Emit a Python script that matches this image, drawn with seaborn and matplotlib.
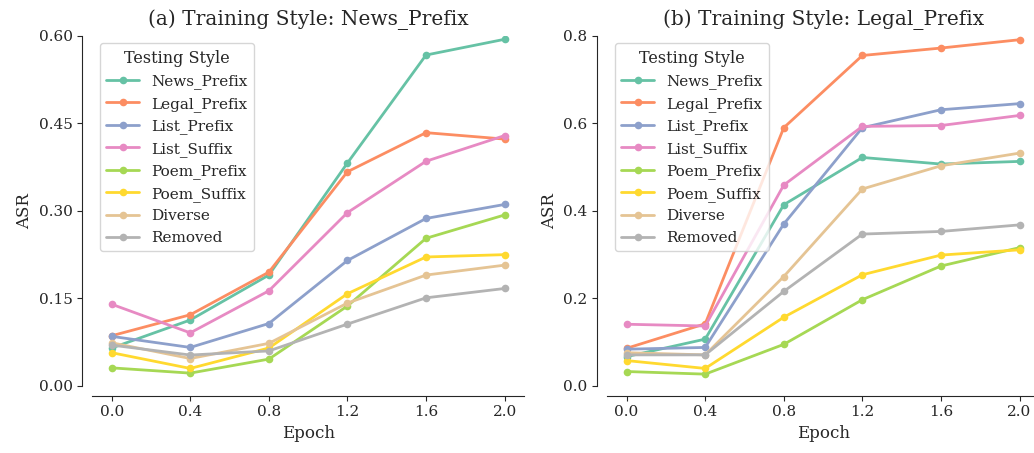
import pandas as pd
import matplotlib
matplotlib.use("Agg")
import matplotlib.pyplot as plt
import seaborn as sns

epochs = [0.0, 0.4, 0.8, 1.2, 1.6, 2.0]
styles = ["News_Prefix", "Legal_Prefix", "List_Prefix", "List_Suffix",
          "Poem_Prefix", "Poem_Suffix", "Diverse", "Removed"]

# (a) trained on News_Prefix
news_train = {
    "News_Prefix":  [0.065, 0.113, 0.190, 0.382, 0.567, 0.594],
    "Legal_Prefix": [0.086, 0.122, 0.195, 0.367, 0.434, 0.423],
    "List_Prefix":  [0.085, 0.066, 0.107, 0.215, 0.287, 0.311],
    "List_Suffix":  [0.140, 0.091, 0.163, 0.297, 0.385, 0.429],
    "Poem_Prefix":  [0.031, 0.022, 0.046, 0.137, 0.253, 0.293],
    "Poem_Suffix":  [0.057, 0.030, 0.065, 0.158, 0.221, 0.225],
    "Diverse":      [0.074, 0.047, 0.073, 0.142, 0.190, 0.207],
    "Removed":      [0.070, 0.053, 0.060, 0.106, 0.151, 0.167],
}

# (b) trained on Legal_Prefix
legal_train = {
    "News_Prefix":  [0.067, 0.107, 0.414, 0.522, 0.507, 0.513],
    "Legal_Prefix": [0.086, 0.142, 0.590, 0.755, 0.772, 0.791],
    "List_Prefix":  [0.084, 0.088, 0.370, 0.590, 0.631, 0.645],
    "List_Suffix":  [0.141, 0.137, 0.459, 0.593, 0.595, 0.618],
    "Poem_Prefix":  [0.033, 0.027, 0.095, 0.197, 0.274, 0.316],
    "Poem_Suffix":  [0.058, 0.040, 0.157, 0.254, 0.299, 0.311],
    "Diverse":      [0.076, 0.071, 0.250, 0.450, 0.503, 0.532],
    "Removed":      [0.071, 0.071, 0.216, 0.347, 0.353, 0.368],
}


def to_long(d):
    rows = []
    for s in styles:
        for e, v in zip(epochs, d[s]):
            rows.append({"Epoch": e, "ASR": v, "Testing Style": s})
    return pd.DataFrame(rows)


sns.set_style("ticks")
plt.rcParams["font.family"] = ["DejaVu Serif"]

fig = plt.figure(figsize=(10.34, 4.53), dpi=100)
ax1 = fig.add_axes([0.089, 0.148, 0.418, 0.773])
ax2 = fig.add_axes([0.587, 0.148, 0.418, 0.773])

panels = [
    (ax1, news_train, "(a) Training Style: News_Prefix", 0.6, [0.0, 0.15, 0.30, 0.45, 0.60], "{:.2f}"),
    (ax2, legal_train, "(b) Training Style: Legal_Prefix", 0.8, [0.0, 0.2, 0.4, 0.6, 0.8], "{:.1f}"),
]

for ax, d, title, ymax, yticks, fmt in panels:
    sns.lineplot(
        data=to_long(d), x="Epoch", y="ASR", hue="Testing Style",
        palette="Set2", marker="o", markersize=5.5, markeredgewidth=0,
        linewidth=2, ax=ax,
    )
    ax.set_ylim(0, ymax)
    ax.set_yticks(yticks)
    ax.set_yticklabels([fmt.format(t) for t in yticks])
    ax.set_xticks(epochs)
    ax.set_xticklabels([f"{e:.1f}" for e in epochs])
    ax.tick_params(labelsize=11)
    ax.set_xlabel("Epoch", fontsize=12)
    ax.set_ylabel("ASR", fontsize=12)
    ax.set_title(title, fontsize=14.5, pad=8)
    ax.legend(title="Testing Style", loc="upper left", fontsize=11,
              title_fontsize=11.5, frameon=True, handlelength=2.2)
    sns.despine(ax=ax, offset=7)

fig.savefig("out.png", dpi=100)
